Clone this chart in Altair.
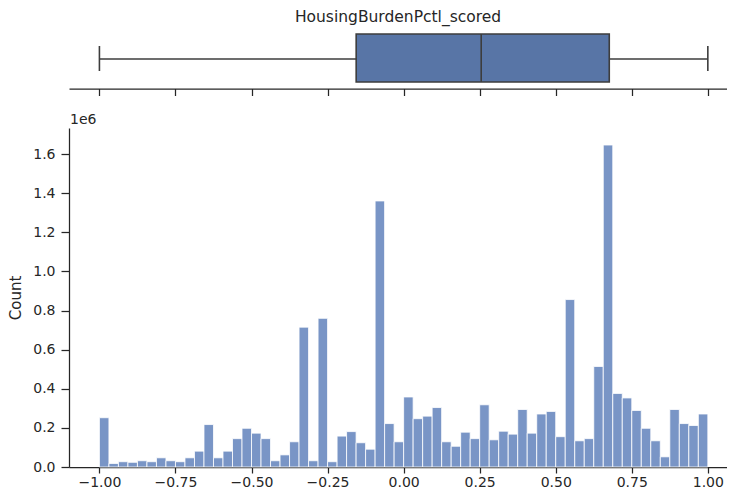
import altair as alt
import pandas as pd

# ---- data ----
var_name = "HousingBurdenPctl_scored"
bin_lo = -1.0
bin_hi = 1.0
counts = [
    252000, 18000, 27000, 24000, 32000, 27000, 47000, 32000,
    27000, 47000, 81000, 217000, 47000, 81000, 145000, 198000,
    173000, 145000, 32000, 62000, 129000, 715000, 32000, 760000,
    27000, 158000, 181000, 124000, 91000, 1360000, 222000, 129000,
    358000, 247000, 260000, 304000, 129000, 106000, 178000, 145000,
    318000, 139000, 183000, 168000, 294000, 173000, 271000, 284000,
    155000, 856000, 134000, 145000, 514000, 1646000, 376000, 353000,
    289000, 198000, 134000, 52000, 294000, 222000, 212000, 271000,
]
box_stats = {"lo": -1.0, "q1": -0.156, "med": 0.255, "q3": 0.676, "hi": 1.0}
x_ticks = [-1.0, -0.75, -0.5, -0.25, 0.0, 0.25, 0.5, 0.75, 1.0]
y_ticks = [0, 200000, 400000, 600000, 800000, 1000000, 1200000, 1400000, 1600000]

# ---- build tables ----
n = len(counts)
w = (bin_hi - bin_lo) / n
hist = pd.DataFrame({
    "start": [bin_lo + i * w for i in range(n)],
    "end": [bin_lo + (i + 1) * w for i in range(n)],
    "count": counts,
})
stats = pd.DataFrame([box_stats])

FONT = "DejaVu Sans"
INK = "#262626"
EDGE = "#3d3d3d"
BOX = "#5875a6"
BAR = "#7995c6"
W = 658

xscale = alt.Scale(domain=[-1.1, 1.063], nice=False, zero=False)

axis_top = alt.Axis(values=x_ticks, labels=False, ticks=True, tickSize=7, tickWidth=1.25,
                    tickColor=INK, domainColor=INK, domainWidth=1.25, grid=False, title=None)

base_top = alt.Chart(stats)
box = base_top.mark_rect(fill=BOX, stroke=EDGE, strokeWidth=1.6).encode(
    x=alt.X("q1:Q", scale=xscale, axis=axis_top), x2="q3:Q", y=alt.value(7), y2=alt.value(55))
whisk_l = base_top.mark_rule(color=EDGE, strokeWidth=1.6).encode(
    x=alt.X("lo:Q", scale=xscale, axis=axis_top), x2="q1:Q", y=alt.value(32))
whisk_r = base_top.mark_rule(color=EDGE, strokeWidth=1.6).encode(
    x=alt.X("q3:Q", scale=xscale, axis=axis_top), x2="hi:Q", y=alt.value(32))
cap_l = base_top.mark_rule(color=EDGE, strokeWidth=1.6).encode(
    x=alt.X("lo:Q", scale=xscale, axis=axis_top), y=alt.value(19), y2=alt.value(44))
cap_r = base_top.mark_rule(color=EDGE, strokeWidth=1.6).encode(
    x=alt.X("hi:Q", scale=xscale, axis=axis_top), y=alt.value(19), y2=alt.value(44))
med = base_top.mark_rule(color=EDGE, strokeWidth=1.6).encode(
    x=alt.X("med:Q", scale=xscale, axis=axis_top), y=alt.value(7), y2=alt.value(55))

top = alt.layer(box, whisk_l, whisk_r, cap_l, cap_r, med).properties(
    width=W, height=61.5,
    title=alt.TitleParams(var_name, font=FONT, fontSize=15.5, fontWeight="normal",
                          color=INK, anchor="middle", offset=1.2),
)

axis_x = alt.Axis(values=x_ticks, format=".2f", labelFont=FONT, labelFontSize=14,
                  labelColor=INK, tickSize=6, tickWidth=1.25, tickColor=INK,
                  domainColor=INK, domainWidth=1.25, labelPadding=2, grid=False, title=None,
                  labelFlush=False)
axis_y = alt.Axis(values=y_ticks, labelExpr="format(datum.value / 1e6, '.1f')",
                  labelFont=FONT, labelFontSize=14, labelColor=INK, tickSize=8,
                  tickWidth=1.25, tickColor=INK, domainColor=INK, domainWidth=1.25,
                  labelPadding=6, grid=False, title="Count", titleFont=FONT,
                  titleFontSize=15, titleFontWeight="normal", titleColor=INK, titlePadding=9)

bars = alt.Chart(hist).mark_rect(fill=BAR, stroke="white", strokeWidth=0.8).encode(
    x=alt.X("start:Q", scale=xscale, axis=axis_x),
    x2="end:Q",
    y=alt.Y("count:Q", scale=alt.Scale(domain=[0, 1733000], nice=False, zero=True), axis=axis_y),
    y2=alt.datum(0),
)
offset_txt = alt.Chart(pd.DataFrame({"t": ["1e6"]})).mark_text(
    align="left", baseline="middle", font=FONT, fontSize=14, color=INK).encode(
    x=alt.value(1), y=alt.value(-8), text="t:N")

bottom = alt.layer(bars, offset_txt).properties(width=W, height=339)

chart = alt.vconcat(top, bottom, spacing=16).properties(
    padding={"left": 0, "top": 2, "right": 0, "bottom": 0}
).configure_view(stroke=None)

chart.save("out.html", embed_options={"renderer": "svg", "actions": False})
